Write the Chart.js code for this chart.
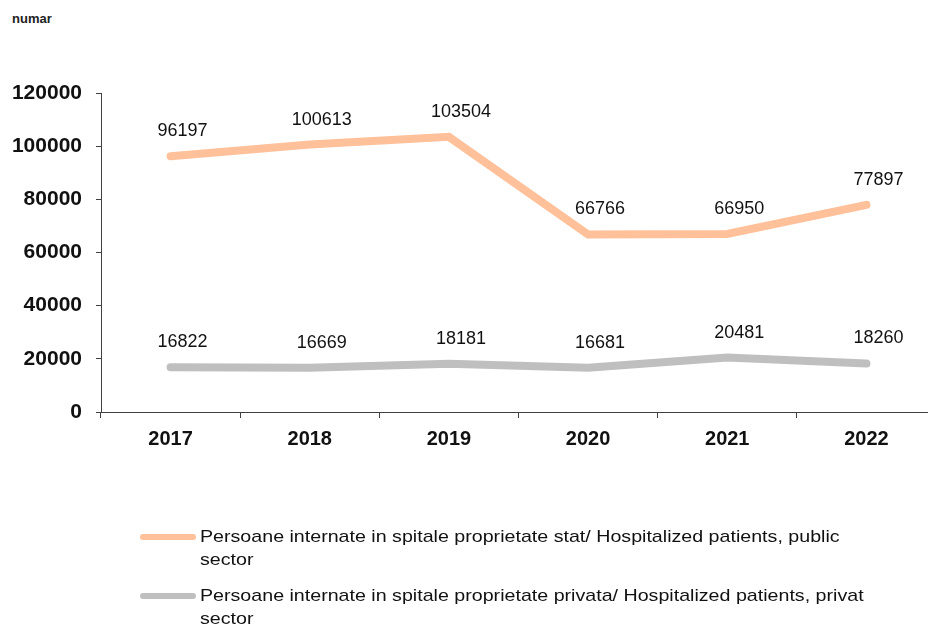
<!DOCTYPE html>
<html>
<head>
<meta charset="utf-8">
<script src="https://cdn.jsdelivr.net/npm/chart.js@4/dist/chart.umd.min.js"></script>
<style>
  html, body { margin: 0; padding: 0; overflow: hidden; background: #fff; }
  body { width: 928px; height: 625px; position: relative; font-family: "Liberation Sans", Arial, sans-serif; }
  #wrap { position: absolute; left: 0; top: 0; width: 940px; height: 625px; }
  #unit { position: absolute; left: 12px; top: 11px; font-size: 13px; font-weight: bold; color: #222; }
  #legend { position: absolute; left: 140px; top: 525px; width: 760px; }
  .item { display: flex; align-items: flex-start; margin-bottom: 13px; }
  .swatch { width: 56px; height: 6px; border-radius: 3px; margin-top: 9px; margin-right: 4px; flex: none; }
  .txt { font-size: 17px; line-height: 23px; color: #111; width: 591px; transform: scaleX(1.155); transform-origin: left top; }
</style>
</head>
<body>
<div id="unit">numar</div>
<div id="wrap"><canvas id="chart"></canvas></div>
<div id="legend"></div>
<script>
// date din grafic
const years = ['2017', '2018', '2019', '2020', '2021', '2022'];
const publicSector = [96197, 100613, 103504, 66766, 66950, 77897];
const privateSector = [16822, 16669, 18181, 16681, 20481, 18260];
const yTicks = [0, 20000, 40000, 60000, 80000, 100000, 120000];

const labelPublic = 'Persoane internate in spitale proprietate stat/ Hospitalized patients, public sector';
const labelPrivate = 'Persoane internate in spitale proprietate privata/ Hospitalized patients, privat sector';

// etichete cu valori deasupra punctelor
const valueLabels = {
    id: 'valueLabels',
    afterDatasetsDraw(chart) {
        const ctx = chart.ctx;
        ctx.save();
        ctx.font = '18px "Liberation Sans", Arial, sans-serif';
        ctx.fillStyle = '#111';
        ctx.textAlign = 'center';
        ctx.textBaseline = 'middle';
        chart.data.datasets.forEach((ds, i) => {
            chart.getDatasetMeta(i).data.forEach((pt, j) => {
                ctx.fillText(String(ds.data[j]), pt.x + 12, pt.y - 25);
            });
        });
        ctx.restore();
    }
};

const ctx = document.getElementById('chart').getContext('2d');
const chart = new Chart(ctx, {
    type: 'line',
    data: {
        labels: years,
        datasets: [
            {
                label: labelPublic,
                data: publicSector,
                borderColor: '#FFC09A',
                borderWidth: 8,
                borderCapStyle: 'round',
                borderJoinStyle: 'miter',
                tension: 0,
                pointRadius: 0,
                fill: false
            },
            {
                label: labelPrivate,
                data: privateSector,
                borderColor: '#BFBFBF',
                borderWidth: 8,
                borderCapStyle: 'round',
                borderJoinStyle: 'miter',
                tension: 0,
                pointRadius: 0,
                fill: false
            }
        ]
    },
    options: {
        responsive: true,
        maintainAspectRatio: false,
        animation: false,
        layout: { padding: { top: 93, right: 4, bottom: 153, left: 0 } },
        plugins: {
            legend: { display: false },
            tooltip: { enabled: false }
        },
        scales: {
            x: {
                offset: true,
                border: { color: '#404040', width: 1 },
                grid: { offset: true, drawOnChartArea: false, tickLength: 6, color: '#404040' },
                ticks: {
                    color: '#111',
                    padding: 9,
                    font: { family: '"Liberation Sans", Arial, sans-serif', size: 20, weight: 'bold' }
                },
                afterFit: s => { s.height = 60; }
            },
            y: {
                min: 0,
                max: 120000,
                afterBuildTicks: s => { s.ticks = yTicks.map(v => ({ value: v })); },
                border: { color: '#404040', width: 1 },
                grid: { drawOnChartArea: false, tickLength: 5, color: '#404040' },
                ticks: {
                    color: '#111',
                    padding: 14,
                    callback: v => String(v),
                    font: { family: '"Liberation Sans", Arial, sans-serif', size: 21, weight: 'bold' }
                },
                afterFit: s => { s.width = 101; }
            }
        }
    },
    plugins: [valueLabels]
});

// legenda html (textul se rupe pe doua randuri)
const legendEl = document.getElementById('legend');
chart.data.datasets.forEach(ds => {
    const item = document.createElement('div');
    item.className = 'item';
    item.innerHTML = '<span class="swatch" style="background:' + ds.borderColor + '"></span><span class="txt">' + ds.label + '</span>';
    legendEl.appendChild(item);
});
</script>
</body>
</html>
